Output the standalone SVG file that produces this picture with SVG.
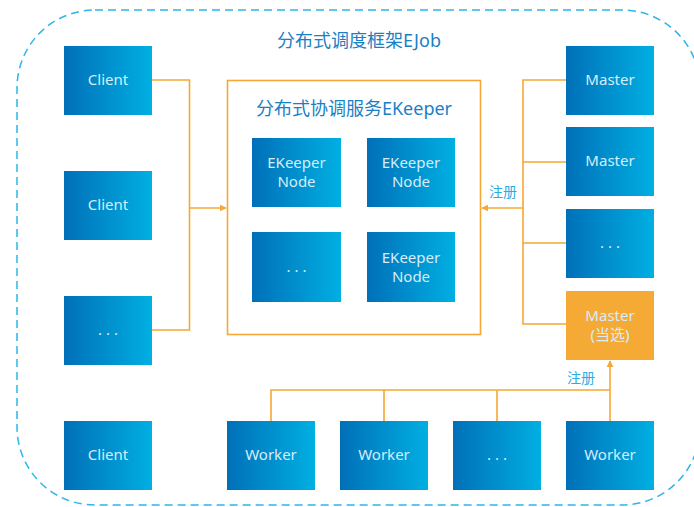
<svg xmlns="http://www.w3.org/2000/svg" width="694" height="507" viewBox="0 0 694 507">
<defs>
<linearGradient id="blue" x1="0" y1="0" x2="1" y2="0">
<stop offset="0" stop-color="#0070b8"/>
<stop offset="1" stop-color="#00afe2"/>
</linearGradient>
<marker id="arr" viewBox="0 0 10 10" refX="9" refY="5" markerWidth="7" markerHeight="7" markerUnits="userSpaceOnUse" orient="auto">
<path d="M0,0 L10,5 L0,10 Z" fill="#f5a833"/>
</marker>
<style>
.b{fill:url(#blue)}
.o{fill:#f5aa36}
.t{font-family:"Noto Sans","Noto Sans CJK SC",sans-serif;font-size:15px;fill:#d6edf9;text-anchor:middle}
.h{font-family:"Noto Sans","Noto Sans CJK SC",sans-serif;font-size:18px;fill:#1a80c4;text-anchor:middle}
.l{font-family:"Noto Sans","Noto Sans CJK SC",sans-serif;font-size:14px;fill:#29ace2;text-anchor:middle}
.c{fill:none;stroke:#f5a833;stroke-width:1.6}
</style>
</defs>
<rect x="17" y="10" width="683" height="495" rx="78" ry="78" fill="none" stroke="#2db7e9" stroke-width="1.5" stroke-dasharray="8 5"/>
<text class="h" x="359" y="47">分布式调度框架EJob</text>

<g id="ekeeper">
<rect x="227.5" y="80.5" width="253" height="254" fill="none" stroke="#f5a833" stroke-width="1.6"/>
<text class="h" x="354" y="115">分布式协调服务EKeeper</text>
</g>
<g id="ek1"><rect class="b" x="252" y="138" width="89" height="69"/><text class="t" x="296.5" y="168">EKeeper</text><text class="t" x="296.5" y="187">Node</text></g>
<g id="ek2"><rect class="b" x="367" y="138" width="88" height="69"/><text class="t" x="411" y="168">EKeeper</text><text class="t" x="411" y="187">Node</text></g>
<g id="ek3"><rect class="b" x="252" y="232" width="89" height="70"/><text class="t" x="296.5" y="272">. . .</text></g>
<g id="ek4"><rect class="b" x="367" y="232" width="88" height="70"/><text class="t" x="411" y="263">EKeeper</text><text class="t" x="411" y="282">Node</text></g>

<g id="client1"><rect class="b" x="64" y="46" width="88" height="69"/><text class="t" x="108" y="85">Client</text></g>
<g id="client2"><rect class="b" x="64" y="171" width="88" height="69"/><text class="t" x="108" y="210">Client</text></g>
<g id="client3"><rect class="b" x="64" y="296" width="88" height="69"/><text class="t" x="108" y="335">. . .</text></g>
<g id="client4"><rect class="b" x="64" y="421" width="88" height="69"/><text class="t" x="108" y="460">Client</text></g>

<g id="master1"><rect class="b" x="566" y="46" width="88" height="69"/><text class="t" x="610" y="85">Master</text></g>
<g id="master2"><rect class="b" x="566" y="127" width="88" height="69"/><text class="t" x="610" y="166">Master</text></g>
<g id="master3"><rect class="b" x="566" y="209" width="88" height="69"/><text class="t" x="610" y="248">. . .</text></g>
<g id="master4"><rect class="o" x="566" y="291" width="88" height="69"/><text class="t" x="610" y="321">Master</text><text class="t" x="610" y="340">(当选)</text></g>

<g id="worker1"><rect class="b" x="227" y="421" width="88" height="69"/><text class="t" x="271" y="460">Worker</text></g>
<g id="worker2"><rect class="b" x="340" y="421" width="88" height="69"/><text class="t" x="384" y="460">Worker</text></g>
<g id="worker3"><rect class="b" x="453" y="421" width="88" height="69"/><text class="t" x="497" y="460">. . .</text></g>
<g id="worker4"><rect class="b" x="566" y="421" width="88" height="69"/><text class="t" x="610" y="460">Worker</text></g>

<g id="connectors">
<path class="c" d="M152,80 H189.5 V330 H152"/>
<path class="c" d="M189.5,208 H226" marker-end="url(#arr)"/>
<path class="c" d="M566,80 H523 V324 H566 M523,162 H566 M523,243 H566"/>
<path class="c" d="M523,208 H482" marker-end="url(#arr)"/>
<text class="l" x="503" y="197">注册</text>
<path class="c" d="M271,421 V390 H610 M384,421 V390 M497,421 V390"/>
<path class="c" d="M610,421 V361" marker-end="url(#arr)"/>
<text class="l" x="581" y="383">注册</text>
</g>
</svg>
